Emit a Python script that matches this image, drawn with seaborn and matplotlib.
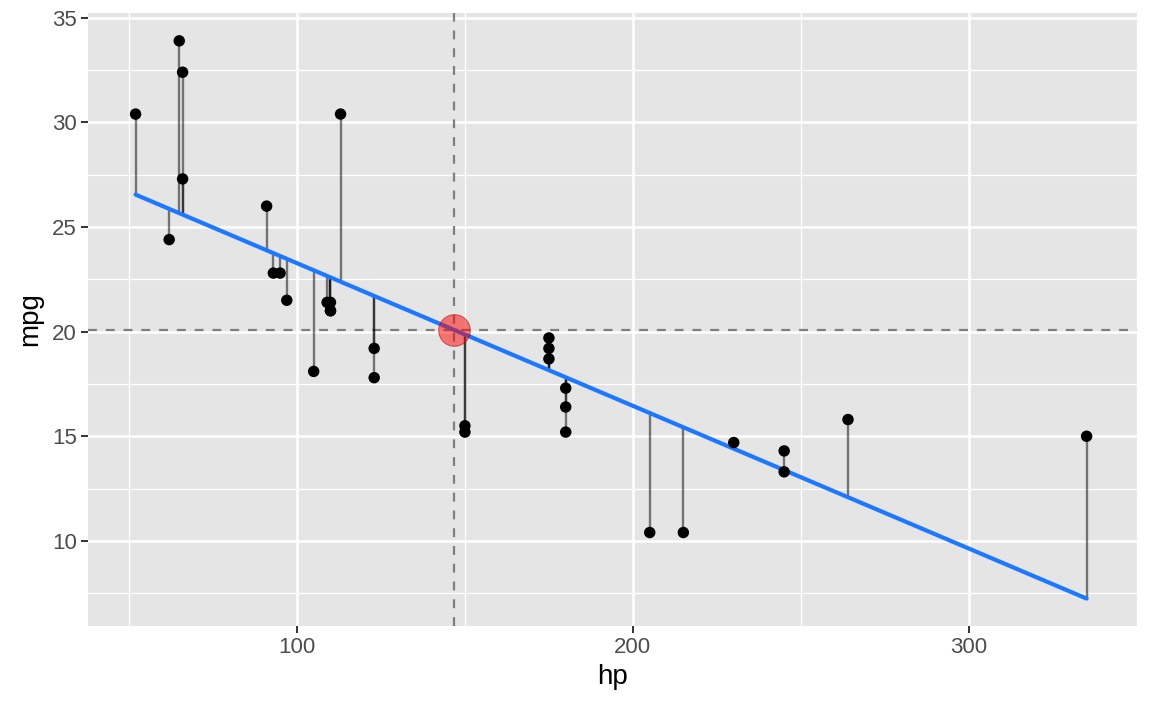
import numpy as np
import pandas as pd
import matplotlib.pyplot as plt
import seaborn as sns

# ---------- Data (mtcars) ----------
hp = [110, 110, 93, 110, 175, 105, 245, 62, 95, 123, 123, 180, 180, 180, 205, 215,
      230, 66, 52, 65, 97, 150, 150, 245, 175, 66, 91, 113, 264, 175, 335, 109]
mpg = [21.0, 21.0, 22.8, 21.4, 18.7, 18.1, 14.3, 24.4, 22.8, 19.2, 17.8, 16.4, 17.3,
       15.2, 10.4, 10.4, 14.7, 32.4, 30.4, 33.9, 21.5, 15.5, 15.2, 13.3, 19.2, 27.3,
       26.0, 30.4, 15.8, 19.7, 15.0, 21.4]

df = pd.DataFrame({'hp': hp, 'mpg': mpg})
slope, intercept = np.polyfit(df['hp'], df['mpg'], 1)
df['fit'] = intercept + slope * df['hp']
mx, my = df['hp'].mean(), df['mpg'].mean()

# ---------- Style (ggplot grey look) ----------
sns.set_theme(style='darkgrid', rc={
    'axes.facecolor': '#E5E5E5',
    'grid.color': 'white',
    'axes.edgecolor': 'none',
})
plt.rcParams['font.family'] = ['Liberation Sans', 'DejaVu Sans']

fig, ax = plt.subplots(figsize=(11.52, 7.11), dpi=100)
fig.subplots_adjust(left=0.0764, right=0.987, top=0.9817, bottom=0.1195)

# residual segments
ax.vlines(df['hp'], df['fit'], df['mpg'], color='black', alpha=0.5, linewidth=1.7, zorder=2)

# reference lines at the means
ax.axvline(mx, color='#7F7F7F', linestyle=(0, (4, 4)), linewidth=1.6, zorder=1.5)
ax.axhline(my, color='#7F7F7F', linestyle=(0, (4, 4)), linewidth=1.6, zorder=1.5)

# fitted line
line_df = pd.DataFrame({'hp': [df['hp'].min(), df['hp'].max()]})
line_df['fit'] = intercept + slope * line_df['hp']
sns.lineplot(data=line_df, x='hp', y='fit', color='#1E78FF', linewidth=3, ax=ax, zorder=3)

# points
sns.scatterplot(data=df, x='hp', y='mpg', color='black', s=68, edgecolor='none', ax=ax, zorder=4)
ax.scatter([mx], [my], s=520, color='red', alpha=0.5, edgecolor='#B00000',
           linewidth=0.8, zorder=5)

# ---------- Axes ----------
ax.set_xlim(37.85, 349.15)
ax.set_ylim(5.93, 35.23)
ax.set_xticks([100, 200, 300])
ax.set_xticks([50, 150, 250, 350], minor=True)
ax.set_yticks([10, 15, 20, 25, 30, 35])
ax.set_yticks([7.5, 12.5, 17.5, 22.5, 27.5, 32.5], minor=True)
ax.grid(which='major', color='white', linewidth=1.8)
ax.grid(which='minor', color='white', linewidth=0.9)
ax.tick_params(which='major', length=5, width=1.4, color='#333333',
               labelsize=16, labelcolor='#4D4D4D', pad=3)
ax.tick_params(which='minor', length=0)
ax.tick_params(axis='x', bottom=True)
ax.tick_params(axis='y', left=True)
ax.set_xlabel('hp', fontsize=20, color='black', labelpad=4)
ax.set_ylabel('mpg', fontsize=20, color='black', labelpad=6)

plt.savefig('out.png', dpi=100)
